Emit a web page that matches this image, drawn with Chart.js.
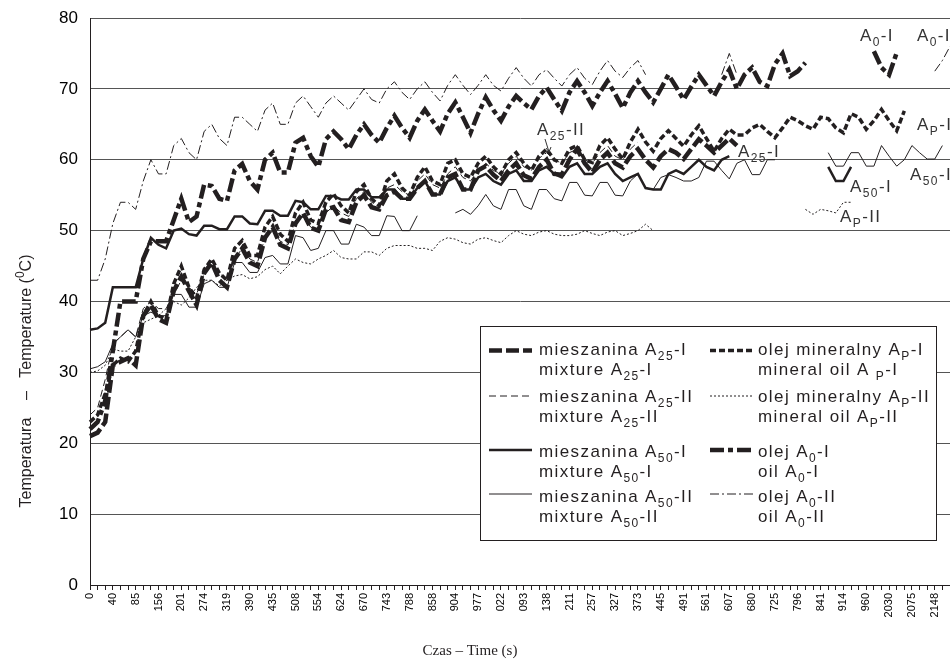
<!DOCTYPE html>
<html>
<head>
<meta charset="utf-8">
<title>Temperatura - Temperature</title>
<script src="https://cdn.jsdelivr.net/npm/chart.js@4.4.1/dist/chart.umd.min.js"></script>
<style>
	body { margin: 0; background: #fff; overflow: hidden; }
	#chart-parent { width: 950px; height: 663px; }
</style>
</head>
<body>
<div id="chart-parent"><canvas id="chart" width="950" height="663"></canvas></div>
<script>
	// x tick labels, one every 3 readings (thousands dropped like in the source)
	var timeTicks = ['0', '40', '85', '156', '201', '274', '319', '390', '435', '508',
		'554', '624', '670', '743', '788', '858', '904', '977', '022', '093',
		'138', '211', '257', '327', '373', '445', '491', '561', '607', '680',
		'725', '796', '841', '914', '960', '2030', '2075', '2148'];
	var readings = 114;

	var mix25I = [21, 21.5, 23, 31, 31.5, 32, 31, 38, 39.5, 37.5,
		37, 41.5, 43.5, 41.5, 39.5, 44, 45.5, 43, 42, 46,
		47.5, 45.5, 45, 49, 50.5, 48, 47.5, 51, 52.5, 50.4,
		50, 53, 53.3, 51.5, 51.2, 54, 55, 53.3, 53, 55,
		55.5, 54.5, 54.5, 56, 57, 55.1, 55.1, 57.5, 58, 55.8,
		55.8, 58.5, 59.1, 57.9, 57, 58.5, 59.5, 57.8, 57.3, 59,
		60, 58, 57.9, 60, 61.5, 59.5, 58.2, 60, 61, 59.5,
		58.9, 60.5, 61.5, 60, 58.9, 60.5, 61.5, 61, 60.1, 61.5,
		62.9, 62, 61, 62, 63, 62];

	var mix25II = [24, 25, 29, 34, 35, 36, 35, 39, 40, 39,
		39, 41, 43, 42, 41, 44, 45, 44, 43, 46,
		47.5, 46, 45.5, 49, 50, 48.5, 48, 51, 52, 50.5,
		50, 52.5, 53.5, 52.5, 52, 54.5, 55.5, 54, 53.5, 56,
		56.5, 55.5, 55, 57, 58, 56.5, 56, 58, 59, 57.5,
		57, 58.5, 59.5, 58.5, 58, 59.5, 60.5, 59, 58.5, 60.2,
		61, 60, 59.5, 61, 61.5, 60, 59.5, 61, 62, 60.5,
		60, 61.5, 62.5];

	var mix50I = [36, 36.2, 37, 42, 42, 42, 42, 46, 49, 48,
		47.5, 50, 50.3, 49.5, 49.3, 50.7, 50.7, 50.2, 50.2, 52,
		52, 51, 50.9, 52.8, 52.8, 52.1, 52.1, 54.2, 54, 53,
		53, 54.9, 54.9, 54.4, 54.4, 55.8, 55.8, 54.7, 54.7, 55.8,
		55.8, 54.5, 54.5, 56, 57, 55.1, 55.1, 57, 57.5, 55.8,
		55.8, 57.5, 58, 57, 56.5, 58, 58.5, 57, 57, 58.5,
		59, 58, 57.5, 59, 59.5, 58, 58, 59, 59.5, 58,
		57, 57.5, 58, 56, 55.8, 55.8, 58, 58.5, 58, 59,
		60, 59, 58.5, 60, 60.5, null, null, null, null, null,
		null, null, null, null, null, null, null, 59, 57, 57,
		59];

	var mix50II = [30.5, 30.8, 31.5, 34, 35, 36, 35, 38, 38.5, 38,
		38, 41, 41, 39.2, 39.2, 42.5, 43, 42, 42, 45.5,
		45.5, 44.1, 44.1, 46.2, 46.5, 45.3, 45.3, 49.3, 49, 47.2,
		47.5, 50, 50, 48.1, 48.1, 50.9, 50.5, 49.3, 49.3, 52.1,
		52, 50, 50, 52.1, null, null, null, null, 52.5, 53,
		52.3, 53.5, 55.1, 53.5, 53, 55.8, 55.8, 53.5, 53, 55.8,
		55.8, 54.5, 54.2, 56.8, 56.8, 55, 54.9, 56.8, 56.8, 55,
		54.9, 57, 58, 56, 55.8, 57.5, 57.9, 57.5, 57, 57,
		57.5, 59.8, 59.8, 58.5, 57.3, 59.5, 60, 57.9, 57.9, 60,
		60, null, null, null, null, null, null, 61, 59.1, 59.1,
		61, 61, 59.1, 59.1, 62, 60.5, 59.1, 60, 62, 61,
		60.1, 60.1, 62];

	var mineralI = [23, 24, 27, 31, 32, 31.5, 33, 38, 40, 38,
		37.5, 42.5, 45, 42, 40.5, 44.5, 46, 44, 43, 47.5,
		48.6, 46.5, 46.5, 50.5, 52, 49.5, 48.5, 52.5, 54, 51.5,
		51, 54, 55.2, 53.5, 52.5, 55.5, 56.5, 54.5, 53.5, 57,
		58, 56, 55, 57.5, 59, 57, 56.5, 59.5, 60, 58,
		57.5, 59.5, 60.5, 59, 58, 60, 61, 59.5, 58.5, 60.5,
		61.5, 60, 59.5, 61.5, 62, 60, 59.6, 62, 63.1, 61.5,
		60.1, 62.5, 64.3, 62.5, 61.2, 63, 64.1, 63, 61.9, 63.5,
		64.8, 63, 61.2, 63, 64.3, 63.5, 63.5, 64.5, 65, 64,
		63.1, 64.5, 66, 65.5, 64.8, 64.3, 66, 65.8, 64.5, 63.8,
		66.5, 66, 64.3, 65.5, 67.1, 65.5, 64.1, 66.9];

	var mineralII = [30, 30.2, 31, 33.3, 33, 33, 35, 37, 37.5, 38,
		39, 40, 39.5, 40.5, 42, 43, 43, 42.2, 43, 43.6,
		43.8, 43.2, 43.5, 44.5, 45, 43.9, 45, 46, 45.5, 45.3,
		46, 46.5, 47.2, 46.2, 46, 46, 47, 47, 46.5, 47.5,
		47.9, 47.9, 47.9, 47.5, 47.5, 47.2, 48.5, 49, 48.8, 48.3,
		48.1, 48.8, 49, 48.6, 48.3, 49.3, 50, 49.5, 49.3, 49.8,
		50, 49.5, 49.3, 49.3, 49.5, 50, 49.6, 49.3, 49.8, 50,
		49.3, 49.6, 50, 50.9, 50, null, null, null, null, null,
		null, null, null, null, null, null, null, null, null, null,
		null, null, null, null, 53, 52.3, 53, 52.8, 52.5, 54,
		54];

	var oil0I = [22, 23, 26, 33, 40, 40, 40, 46, 48.5, 48.5,
		48.5, 51.5, 54.5, 51.2, 52, 56.5, 56.3, 54.5, 54.2, 58.5,
		59.4, 57, 55.8, 60, 61, 58.2, 58.2, 62.4, 63.1, 60.5,
		59, 62.9, 64, 62.9, 61.5, 63.5, 65, 63.5, 62.4, 64.5,
		66.2, 64.5, 63.1, 65.5, 67.1, 65.5, 64, 66.5, 68.1, 66,
		63.8, 66.5, 68.8, 67, 65.5, 67.5, 69, 68, 67.1, 69,
		70.2, 68.5, 66.9, 69.5, 71.1, 69.5, 67.6, 69.5, 71.1, 69.3,
		67.3, 69.5, 71.1, 69.5, 68.1, 70, 72, 70.3, 68.5, 70.3,
		72, 70.5, 69, 71, 72.7, 70, 72, 73, 71, 70.4,
		73.5, 75, 71.8, 72.5, 73.7, null, null, null, null, null,
		null, null, null, 75.3, 73, 72, 75.1];

	var oil0II = [43, 43, 46, 51, 54, 54, 53, 57, 60, 58,
		58, 62, 63, 61, 60, 64, 65, 63, 62, 66,
		66, 65, 64, 67, 68, 65, 65, 68, 69, 67.5,
		66, 68, 69, 68, 67, 68.5, 70, 68.5, 68, 70,
		71, 69.5, 68.5, 70, 71, 69.5, 68.3, 70.5, 72, 70.5,
		69.2, 70.5, 72, 70.5, 69.7, 71.5, 73, 71.5, 70.4, 72,
		72.7, 71.5, 70.4, 72, 73, 71.5, 70.6, 72.5, 74, 72.5,
		71.6, 73, 74, 72, null, null, null, null, null, null,
		null, null, null, 72, 75, 72, null, null, null, null,
		null, null, null, null, null, null, null, null, null, null,
		null, null, null, null, null, null, null, null, null, null,
		null, 72.5, 74, 76];

	var SANS = '"Liberation Sans", Arial, sans-serif';
	var SERIF = '"Liberation Serif", "Times New Roman", serif';
	var INK = '#231f20';

	var labels = [];
	for (var i = 0; i < readings; i++) {
		labels.push(i % 3 === 0 && timeTicks[i / 3] ? timeTicks[i / 3] : '');
	}

	function series(data, width, dash, legend) {
		return {
			data: data,
			borderColor: INK,
			backgroundColor: INK,
			borderWidth: width,
			borderDash: dash,
			fill: false,
			spanGaps: false,
			pointRadius: 0,
			tension: 0,
			legendText: legend
		};
	}

	// text with _{sub} and ^{sup} parts
	function richParts(str) {
		var parts = [], re = /([_^])\{([^}]*)\}/g, last = 0, m;
		while ((m = re.exec(str))) {
			if (m.index > last) parts.push({t: str.slice(last, m.index), k: ''});
			parts.push({t: m[2], k: m[1]});
			last = re.lastIndex;
		}
		if (last < str.length) parts.push({t: str.slice(last), k: ''});
		return parts;
	}

	function drawRich(ctx, str, x, y, size, align, family) {
		var parts = richParts(str);
		var small = Math.round(size * 0.72);
		var total = 0;
		family = family || SANS;
		parts.forEach(function(p) {
			ctx.font = (p.k ? small : size) + 'px ' + family;
			p.w = ctx.measureText(p.t).width;
			total += p.w;
		});
		if (align === 'center') x -= total / 2;
		ctx.textAlign = 'left';
		parts.forEach(function(p) {
			ctx.font = (p.k ? small : size) + 'px ' + family;
			var dy = p.k === '_' ? size * 0.32 : (p.k === '^' ? -size * 0.38 : 0);
			ctx.fillText(p.t, x, y + dy);
			x += p.w;
		});
	}

	var overlay = {
		id: 'overlay',
		beforeDraw: function(chart) {
			var ctx = chart.ctx;
			ctx.save();
			ctx.fillStyle = '#fff';
			ctx.fillRect(0, 0, chart.width, chart.height);
			ctx.restore();
		},
		afterDraw: function(chart) {
			var ctx = chart.ctx;
			ctx.save();
			ctx.fillStyle = INK;
			ctx.textBaseline = 'alphabetic';

			// axis titles
			ctx.save();
			ctx.translate(27, 381);
			ctx.rotate(-Math.PI / 2);
			ctx.textBaseline = 'middle';
			drawRich(ctx, 'Temperatura    \u2013   Temperature (^{0}C)', 0, 0, 16, 'center');
			ctx.restore();
			drawRich(ctx, 'Czas \u2013 Time (s)', 470, 655, 15, 'center', SERIF);

			// legend box
			ctx.fillStyle = '#fff';
			ctx.fillRect(480.5, 326.5, 456, 214);
			ctx.strokeStyle = INK;
			ctx.lineWidth = 1;
			ctx.strokeRect(480.5, 326.5, 456, 214);

			var sampleY = [350.5, 396, 450, 494];
			var textY = [355, 401.5, 456.5, 501.5];
			var sampleX = [489, 710];
			var textX = [539, 758];
			ctx.letterSpacing = '1.4px';
			chart.data.datasets.forEach(function(ds, n) {
				var col = Math.floor(n / 4), row = n % 4;
				ctx.save();
				ctx.strokeStyle = INK;
				ctx.lineWidth = ds.borderWidth;
				ctx.setLineDash(ds.borderDash);
				ctx.beginPath();
				ctx.moveTo(sampleX[col], sampleY[row]);
				ctx.lineTo(sampleX[col] + 43, sampleY[row]);
				ctx.stroke();
				ctx.restore();
				ctx.fillStyle = INK;
				drawRich(ctx, ds.legendText[0], textX[col], textY[row], 17);
				drawRich(ctx, ds.legendText[1], textX[col], textY[row] + 20, 17);
			});

			// curve labels on the plot
			var notes = [
				['A_{0}-I', 860, 41], ['A_{0}-II', 917, 41], ['A_{P}-I', 917, 130],
				['A_{25}-I', 738, 157], ['A_{25}-II', 537, 135], ['A_{50}-I', 850, 192],
				['A_{50}-II', 910, 180], ['A_{P}-II', 840, 222]
			];
			ctx.fillStyle = '#333';
			notes.forEach(function(n) {
				drawRich(ctx, n[0], n[1], n[2], 17);
			});
			ctx.letterSpacing = '0px';

			// arrow from A25-II label
			ctx.strokeStyle = '#333';
			ctx.lineWidth = 1;
			ctx.beginPath();
			ctx.moveTo(545, 139);
			ctx.lineTo(549, 152);
			ctx.moveTo(546, 148);
			ctx.lineTo(549, 152);
			ctx.lineTo(551, 147);
			ctx.stroke();
			ctx.restore();
		}
	};

	new Chart(document.getElementById('chart'), {
		type: 'line',
		data: {
			labels: labels,
			datasets: [
				series(mix25I, 4.5, [13, 4], ['mieszanina A_{25}-I', 'mixture A_{25}-I']),
				series(mix25II, 1, [7, 4], ['mieszanina A_{25}-II', 'mixture A_{25}-II']),
				series(mix50I, 2.5, [], ['mieszanina A_{50}-I', 'mixture A_{50}-I']),
				series(mix50II, 1, [], ['mieszanina A_{50}-II', 'mixture A_{50}-II']),
				series(mineralI, 3.5, [6, 3], ['olej mineralny A_{P}-I', 'mineral oil A _{P}-I']),
				series(mineralII, 1, [2, 2], ['olej mineralny A_{P}-II', 'mineral oil A_{P}-II']),
				series(oil0I, 4.5, [14, 4, 5, 4], ['olej A_{0}-I', 'oil A_{0}-I']),
				series(oil0II, 1, [9, 3, 2, 3], ['olej A_{0}-II', 'oil A_{0}-II'])
			]
		},
		options: {
			responsive: false,
			animation: false,
			devicePixelRatio: 1,
			layout: {padding: {top: 18, right: 0, bottom: 0, left: 0}},
			plugins: {
				legend: {display: false},
				tooltip: {enabled: false}
			},
			scales: {
				x: {
					type: 'category',
					offset: false,
					grid: {drawOnChartArea: false, drawTicks: true, tickLength: 5, color: INK},
					border: {display: true, color: INK, width: 1},
					ticks: {
						autoSkip: false,
						minRotation: 90,
						maxRotation: 90,
						padding: 3,
						color: '#000',
						font: {family: SANS, size: 11}
					},
					afterFit: function(scale) {
						scale.height = 78;
						scale.paddingLeft = 0;
						scale.paddingRight = 0;
					}
				},
				y: {
					min: 0,
					max: 80,
					grid: {color: '#555', lineWidth: 1, drawTicks: false},
					border: {display: true, color: INK, width: 1},
					ticks: {
						stepSize: 10,
						padding: 12,
						color: '#000',
						font: {family: SANS, size: 17}
					},
					afterFit: function(scale) {
						scale.width = 90;
						scale.paddingTop = 0;
						scale.paddingBottom = 0;
					}
				}
			}
		},
		plugins: [overlay]
	});
</script>
</body>
</html>
